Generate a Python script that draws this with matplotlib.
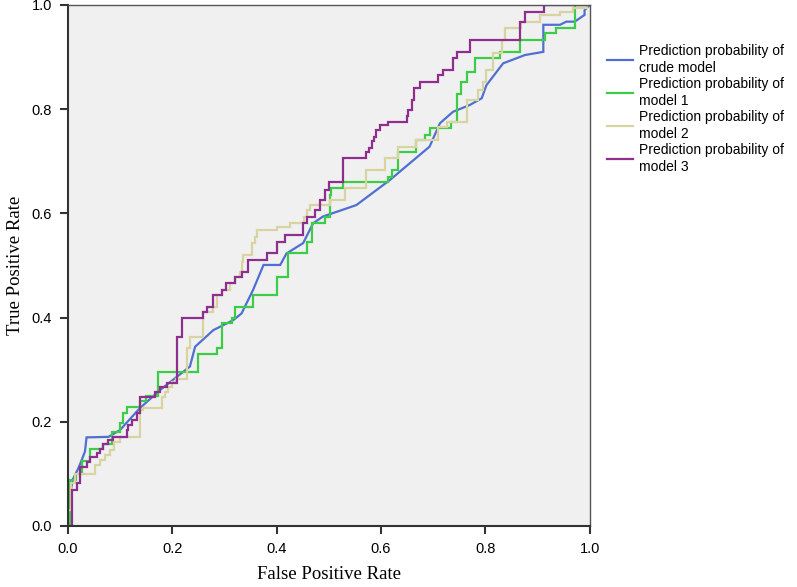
import matplotlib
matplotlib.use("Agg")
import matplotlib.pyplot as plt

# ROC coordinates (FPR, TPR)
fpr_crude = [0, 0.004, 0.010, 0.020, 0.027, 0.033, 0.036, 0.078, 0.100, 0.138, 0.177,
             0.234, 0.244, 0.279, 0.317, 0.333, 0.355, 0.375, 0.407, 0.419, 0.451,
             0.470, 0.489, 0.553, 0.617, 0.693, 0.713, 0.738, 0.770, 0.793, 0.802,
             0.834, 0.876, 0.911, 0.911, 0.943, 0.955, 0.971, 0.990, 0.990, 1.0]
tpr_crude = [0, 0.060, 0.090, 0.110, 0.127, 0.143, 0.170, 0.171, 0.184, 0.226, 0.261,
             0.306, 0.344, 0.376, 0.395, 0.408, 0.453, 0.501, 0.501, 0.523, 0.543,
             0.581, 0.594, 0.616, 0.664, 0.728, 0.773, 0.795, 0.808, 0.821, 0.846,
             0.888, 0.904, 0.910, 0.962, 0.962, 0.968, 0.968, 0.981, 0.990, 1.0]

fpr_m1 = [0, 0.005, 0.005, 0.015, 0.015, 0.027, 0.027, 0.043, 0.043, 0.068, 0.068,
          0.085, 0.085, 0.100, 0.100, 0.106, 0.106, 0.113, 0.113, 0.138, 0.138, 0.150,
          0.150, 0.173, 0.173, 0.250, 0.250, 0.285, 0.285, 0.295, 0.295, 0.314, 0.314,
          0.320, 0.320, 0.355, 0.355, 0.400, 0.400, 0.422, 0.422, 0.458, 0.458, 0.467,
          0.467, 0.493, 0.493, 0.502, 0.502, 0.505, 0.505, 0.528, 0.528, 0.614, 0.614,
          0.622, 0.622, 0.633, 0.633, 0.668, 0.668, 0.684, 0.684, 0.694, 0.694, 0.735,
          0.735, 0.745, 0.745, 0.754, 0.754, 0.764, 0.764, 0.780, 0.780, 0.828, 0.828,
          0.866, 0.866, 0.914, 0.914, 0.936, 0.936, 0.971, 0.971, 1.0]
tpr_m1 = [0, 0, 0.088, 0.088, 0.100, 0.100, 0.125, 0.125, 0.147, 0.147, 0.157,
          0.157, 0.180, 0.180, 0.197, 0.197, 0.216, 0.216, 0.229, 0.229, 0.240, 0.240,
          0.250, 0.250, 0.296, 0.296, 0.331, 0.331, 0.341, 0.341, 0.389, 0.389, 0.399,
          0.399, 0.421, 0.421, 0.443, 0.443, 0.478, 0.478, 0.523, 0.523, 0.546, 0.546,
          0.581, 0.581, 0.594, 0.594, 0.635, 0.635, 0.648, 0.648, 0.661, 0.661, 0.670,
          0.670, 0.683, 0.683, 0.718, 0.718, 0.741, 0.741, 0.750, 0.750, 0.763, 0.763,
          0.775, 0.775, 0.830, 0.830, 0.853, 0.853, 0.872, 0.872, 0.898, 0.898, 0.910,
          0.910, 0.933, 0.933, 0.946, 0.946, 0.955, 0.955, 1.0, 1.0]

fpr_m2 = [0, 0, 0.006, 0.006, 0.014, 0.014, 0.052, 0.052, 0.062, 0.062, 0.072, 0.072,
          0.080, 0.080, 0.088, 0.088, 0.100, 0.100, 0.138, 0.138, 0.145, 0.145, 0.180,
          0.180, 0.186, 0.186, 0.193, 0.193, 0.200, 0.200, 0.208, 0.208, 0.228, 0.228,
          0.234, 0.234, 0.260, 0.260, 0.279, 0.279, 0.285, 0.285, 0.295, 0.295, 0.310,
          0.310, 0.320, 0.320, 0.330, 0.330, 0.333, 0.333, 0.336, 0.336, 0.352, 0.352,
          0.359, 0.359, 0.362, 0.362, 0.400, 0.400, 0.426, 0.426, 0.452, 0.452, 0.458,
          0.458, 0.465, 0.465, 0.502, 0.502, 0.531, 0.531, 0.572, 0.572, 0.608, 0.608,
          0.633, 0.633, 0.668, 0.668, 0.710, 0.710, 0.726, 0.726, 0.764, 0.764, 0.786,
          0.786, 0.796, 0.796, 0.802, 0.802, 0.815, 0.815, 0.831, 0.831, 0.837, 0.837,
          0.869, 0.869, 0.904, 0.904, 0.943, 0.943, 0.968, 0.968, 0.994, 0.994, 1.0]
tpr_m2 = [0, 0.030, 0.030, 0.082, 0.082, 0.100, 0.100, 0.117, 0.117, 0.127, 0.127, 0.136,
          0.136, 0.146, 0.146, 0.162, 0.162, 0.171, 0.171, 0.223, 0.223, 0.226, 0.226,
          0.248, 0.248, 0.258, 0.258, 0.267, 0.267, 0.277, 0.277, 0.283, 0.283, 0.341,
          0.341, 0.363, 0.363, 0.411, 0.411, 0.421, 0.421, 0.443, 0.443, 0.453, 0.453,
          0.466, 0.466, 0.478, 0.478, 0.488, 0.488, 0.507, 0.507, 0.520, 0.520, 0.543,
          0.543, 0.555, 0.555, 0.568, 0.568, 0.574, 0.574, 0.581, 0.581, 0.594, 0.594,
          0.607, 0.607, 0.616, 0.616, 0.626, 0.626, 0.648, 0.648, 0.683, 0.683, 0.706,
          0.706, 0.728, 0.728, 0.741, 0.741, 0.766, 0.766, 0.776, 0.776, 0.818, 0.818,
          0.837, 0.837, 0.853, 0.853, 0.875, 0.875, 0.907, 0.907, 0.933, 0.933, 0.955,
          0.955, 0.968, 0.968, 0.981, 0.981, 0.987, 0.987, 0.994, 0.994, 1.0, 1.0]

fpr_m3 = [0, 0.008, 0.008, 0.017, 0.017, 0.024, 0.024, 0.036, 0.036, 0.043, 0.043,
          0.056, 0.056, 0.062, 0.062, 0.068, 0.068, 0.078, 0.078, 0.087, 0.087, 0.113,
          0.113, 0.116, 0.116, 0.123, 0.123, 0.132, 0.132, 0.138, 0.138, 0.167, 0.167,
          0.177, 0.177, 0.190, 0.190, 0.209, 0.209, 0.218, 0.218, 0.260, 0.260, 0.266,
          0.266, 0.279, 0.279, 0.295, 0.295, 0.304, 0.304, 0.320, 0.320, 0.333, 0.333,
          0.346, 0.346, 0.381, 0.381, 0.400, 0.400, 0.416, 0.416, 0.451, 0.451, 0.458,
          0.458, 0.473, 0.473, 0.483, 0.483, 0.493, 0.493, 0.500, 0.500, 0.528, 0.528,
          0.572, 0.572, 0.578, 0.578, 0.582, 0.582, 0.586, 0.586, 0.590, 0.590, 0.598,
          0.598, 0.614, 0.614, 0.649, 0.649, 0.652, 0.652, 0.659, 0.659, 0.663, 0.663,
          0.674, 0.674, 0.710, 0.710, 0.719, 0.719, 0.738, 0.738, 0.745, 0.745, 0.770,
          0.770, 0.866, 0.866, 0.876, 0.876, 0.912, 0.912, 1.0]
tpr_m3 = [0, 0, 0.069, 0.069, 0.082, 0.082, 0.114, 0.114, 0.123, 0.123, 0.133,
          0.133, 0.140, 0.140, 0.147, 0.147, 0.157, 0.157, 0.165, 0.165, 0.171, 0.171,
          0.184, 0.184, 0.194, 0.194, 0.203, 0.203, 0.216, 0.216, 0.248, 0.248, 0.258,
          0.258, 0.267, 0.267, 0.274, 0.274, 0.363, 0.363, 0.399, 0.399, 0.411, 0.411,
          0.421, 0.421, 0.443, 0.443, 0.453, 0.453, 0.466, 0.466, 0.478, 0.478, 0.488,
          0.488, 0.511, 0.511, 0.523, 0.523, 0.546, 0.546, 0.559, 0.559, 0.581, 0.581,
          0.594, 0.594, 0.607, 0.607, 0.626, 0.626, 0.645, 0.645, 0.661, 0.661, 0.706,
          0.706, 0.718, 0.718, 0.725, 0.725, 0.738, 0.738, 0.747, 0.747, 0.760, 0.760,
          0.770, 0.770, 0.776, 0.776, 0.786, 0.786, 0.798, 0.798, 0.818, 0.818, 0.840,
          0.840, 0.853, 0.853, 0.866, 0.866, 0.875, 0.875, 0.898, 0.898, 0.910, 0.910,
          0.933, 0.933, 0.968, 0.968, 0.987, 0.987, 1.0, 1.0]

labels = ["Prediction probability of\ncrude model",
          "Prediction probability of\nmodel 1",
          "Prediction probability of\nmodel 2",
          "Prediction probability of\nmodel 3"]
colors = ["#4f6fd2", "#3ccc48", "#d8d4a2", "#8e2f8e"]
ticks = [0.0, 0.2, 0.4, 0.6, 0.8, 1.0]

fig = plt.figure(figsize=(7.97, 5.87), dpi=100)
ax = fig.add_axes([0.085, 0.104, 0.655, 0.8875])
ax.set_facecolor("#f0f0f0")

curves = [(fpr_crude, tpr_crude), (fpr_m1, tpr_m1), (fpr_m2, tpr_m2), (fpr_m3, tpr_m3)]
for (fx, ty), lab, col in zip(curves, labels, colors):
    ax.plot(fx, ty, color=col, lw=1.6, label=lab, solid_joinstyle="miter")

ax.set_xlim(0, 1)
ax.set_ylim(0, 1)
ax.set_xticks(ticks)
ax.set_yticks(ticks)
ax.set_xticklabels([f"{t:.1f}" for t in ticks], family="Liberation Sans", fontsize=10.5)
ax.set_yticklabels([f"{t:.1f}" for t in ticks], family="Liberation Sans", fontsize=10.5)
ax.tick_params(direction="out", length=6, width=1.5, color="#333333", pad=5.5)

for side in ["left", "bottom"]:
    ax.spines[side].set_linewidth(1.5)
    ax.spines[side].set_color("#333333")
for side in ["top", "right"]:
    ax.spines[side].set_linewidth(1.0)
    ax.spines[side].set_color("#555555")

ax.set_xlabel("False Positive Rate", family="Liberation Serif", fontsize=13.5, labelpad=7)
ax.set_ylabel("True Positive Rate", family="Liberation Serif", fontsize=13.5, labelpad=5)

leg = ax.legend(loc="upper left", bbox_to_anchor=(1.022, 0.935), frameon=False,
                prop={"family": "Liberation Sans", "size": 10},
                handlelength=1.9, handletextpad=0.45, labelspacing=0.2,
                borderaxespad=0)

fig.savefig("out.png", dpi=100)
